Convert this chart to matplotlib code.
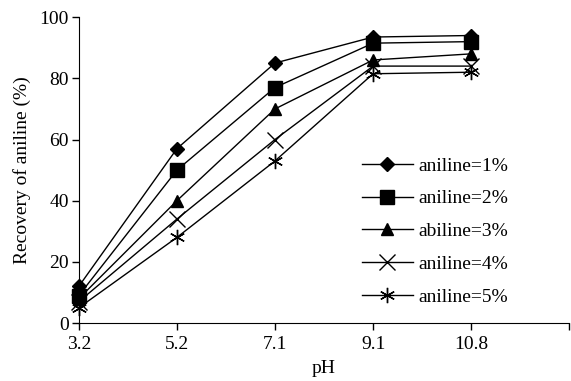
import numpy as np
import matplotlib
matplotlib.use('Agg')
import matplotlib.pyplot as plt

plt.rcParams['font.family'] = ['Liberation Serif', 'DejaVu Serif']

# data
ph_labels = ['3.2', '5.2', '7.1', '9.1', '10.8']
aniline_1 = [12, 57, 85, 93.5, 94]
aniline_2 = [9, 50, 77, 91.5, 92]
aniline_3 = [8, 40, 70, 86, 88]
aniline_4 = [7, 34, 60, 84, 84]
aniline_5 = [5, 28, 53, 81.5, 82]
labels = ['aniline=1%', 'aniline=2%', 'abiline=3%', 'aniline=4%', 'aniline=5%']

fig = plt.figure(figsize=(5.71, 3.81), dpi=100)
ax = fig.add_axes([0.138, 0.152, 0.859, 0.803])

x = np.arange(len(ph_labels))
series = [aniline_1, aniline_2, aniline_3, aniline_4, aniline_5]
markers = ['D', 's', '^', 'x', (6, 2, 0)]
sizes = [7, 10, 9, 11, 11]

for vals, m, ms, lab in zip(series, markers, sizes, labels):
    ax.plot(x, vals, color='k', lw=1, marker=m, markersize=ms,
            markeredgewidth=1, markerfacecolor='k', markeredgecolor='k',
            label=lab, clip_on=False)

ax.set_xlim(0, len(ph_labels))
ax.set_ylim(0, 100)
ax.set_xticks(np.arange(len(ph_labels) + 1))
ax.set_xticklabels(ph_labels + [''])
ax.set_yticks(np.arange(0, 101, 20))

ax.spines['top'].set_visible(False)
ax.spines['right'].set_visible(False)
ax.tick_params(axis='both', direction='out', length=5, width=1, labelsize=14,
               colors='k')
ax.tick_params(axis='y', pad=2)
ax.tick_params(axis='x', pad=4)

ax.set_xlabel('pH', fontsize=14, labelpad=5)
ax.set_ylabel('Recovery of aniline (%)', fontsize=14, labelpad=6)

leg = ax.legend(loc='upper left', bbox_to_anchor=(0.634, 0.588),
                bbox_transform=fig.transFigure, frameon=False, fontsize=14,
                handlelength=2.6, handletextpad=0.3, labelspacing=0.78,
                borderpad=0, borderaxespad=0)

plt.savefig('out.png', dpi=100)
